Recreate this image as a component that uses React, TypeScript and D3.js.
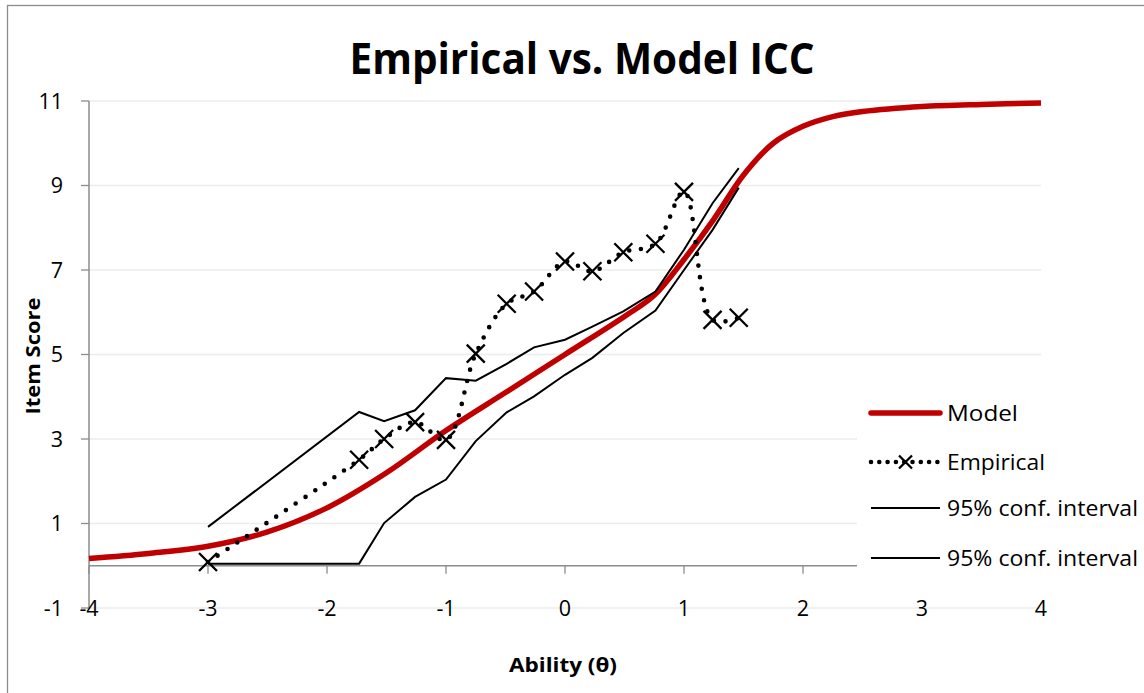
import React from 'react';
import * as d3 from 'd3';

const modelTheta = [-4, -3.5, -3, -2.5, -2, -1.5, -1, -0.5, 0, 0.5, 0.75, 1, 1.25, 1.5, 1.75, 2, 2.25, 2.5, 3, 3.5, 4];
const modelScore = [0.17, 0.29, 0.46, 0.8, 1.37, 2.2, 3.2, 4.1, 5.0, 5.9, 6.4, 7.25, 8.2, 9.25, 10.0, 10.4, 10.63, 10.75, 10.87, 10.92, 10.95];
const empTheta = [-3, -1.73, -1.52, -1.26, -1.0, -0.75, -0.49, -0.26, 0, 0.23, 0.49, 0.76, 1.0, 1.24, 1.46];
const empScore = [0.09, 2.51, 3.0, 3.4, 2.98, 5.02, 6.2, 6.49, 7.2, 6.97, 7.42, 7.62, 8.85, 5.82, 5.87];
const ciLower = [0.05, 0.05, 1.01, 1.63, 2.04, 2.95, 3.63, 4.01, 4.52, 4.92, 5.51, 6.04, 7.0, 7.95, 8.95];
const ciUpper = [0.92, 3.64, 3.42, 3.68, 4.44, 4.38, 4.78, 5.17, 5.35, 5.66, 6.02, 6.49, 7.48, 8.58, 9.41];
const xTicks = [-4, -3, -2, -1, 0, 1, 2, 3, 4];
const yTicks = [-1, 1, 3, 5, 7, 9, 11];
const legendLabels = ['Model', 'Empirical', '95% conf. interval', '95% conf. interval'];
const legendWidths = [71, 98, 191, 191];

const FONT = "'Open Sans', 'DejaVu Sans', sans-serif";

export default function App() {
  const x = d3.scaleLinear().domain([-4, 4]).range([89, 1041]);
  const y = d3.scaleLinear().domain([-1, 11]).range([608, 101]);

  const modelPts: [number, number][] = modelTheta.map((t, i) => [x(t), y(modelScore[i])]);
  const empPts: [number, number][] = empTheta.map((t, i) => [x(t), y(empScore[i])]);
  const lowPts: [number, number][] = empTheta.map((t, i) => [x(t), y(ciLower[i])]);
  const upPts: [number, number][] = empTheta.map((t, i) => [x(t), y(ciUpper[i])]);

  const smooth = d3.line().curve(d3.curveCatmullRom.alpha(0.5));
  const straight = d3.line();

  const xMark = (cx: number, cy: number, r: number, key: any) => (
    <path key={key} d={`M${cx - r},${cy - r}L${cx + r},${cy + r}M${cx - r},${cy + r}L${cx + r},${cy - r}`}
      stroke="#000" strokeWidth={2.3} fill="none" />
  );

  const legX0 = 871, legX1 = 940, legText = 947;
  const legY = [413, 462, 508, 558];

  return (
    <svg width={1144} height={693} style={{ position: 'absolute', left: 0, top: 0, background: '#fff' }}>
      <rect x={0} y={0} width={1144} height={693} fill="#fff" />
      <rect x={7.5} y={5.5} width={1300} height={1000} fill="none" stroke="#8c8c8c" strokeWidth={1.3} />

      <text x={582} y={74} textAnchor="middle" fontFamily={FONT} fontWeight="bold" fontSize={43}
        textLength={465} lengthAdjust="spacingAndGlyphs">Empirical vs. Model ICC</text>

      {/* gridlines */}
      {yTicks.map(t => (
        <line key={'g' + t} x1={89} x2={1041} y1={y(t)} y2={y(t)} stroke="#ececec" strokeWidth={1.3} />
      ))}

      {/* y axis */}
      <line x1={89} x2={89} y1={y(11)} y2={y(-1)} stroke="#8c8c8c" strokeWidth={1.5} />
      {yTicks.map(t => (
        <g key={'yt' + t}>
          <line x1={81} x2={89} y1={y(t)} y2={y(t)} stroke="#8c8c8c" strokeWidth={1.3} />
          <text x={63} y={y(t)} dy="0.36em" textAnchor="end" fontFamily={FONT} fontSize={21.5} fill="#000">{t}</text>
        </g>
      ))}

      {/* x axis */}
      <line x1={89} x2={1041} y1={y(0)} y2={y(0)} stroke="#8c8c8c" strokeWidth={1.5} />
      {xTicks.map(t => (
        <g key={'xt' + t}>
          <line x1={x(t)} x2={x(t)} y1={y(0)} y2={y(0) + 8} stroke="#8c8c8c" strokeWidth={1.3} />
          <text x={x(t)} y={y(-1)} dy="0.36em" textAnchor="middle" fontFamily={FONT} fontSize={21.5} fill="#000">{t}</text>
        </g>
      ))}

      {/* series */}
      <path d={smooth(modelPts) || ''} fill="none" stroke="#C00000" strokeWidth={5.5} strokeLinejoin="round" />
      <path d={smooth(empPts) || ''} fill="none" stroke="#000" strokeWidth={4.6} strokeDasharray="0 11.7" strokeLinecap="round" />
      {empPts.map((p, i) => xMark(p[0], p[1], 9, 'm' + i))}
      <path d={straight(upPts) || ''} fill="none" stroke="#000" strokeWidth={2} />
      <path d={straight(lowPts) || ''} fill="none" stroke="#000" strokeWidth={2} />

      {/* axis titles */}
      <text transform={`translate(33,356) rotate(-90)`} textAnchor="middle" dy="0.35em" fontFamily={FONT} fontWeight="bold" fontSize={20}
        textLength={117} lengthAdjust="spacingAndGlyphs">Item Score</text>
      <text x={563} y={665} dy="0.35em" textAnchor="middle" fontFamily={FONT} fontWeight="bold" fontSize={20}
        textLength={108} lengthAdjust="spacingAndGlyphs">Ability (θ)</text>

      {/* legend */}
      <rect x={857} y={385} width={300} height={200} fill="#fff" />
      <line x1={legX0} x2={legX1} y1={legY[0]} y2={legY[0]} stroke="#C00000" strokeWidth={5.5} strokeLinecap="round" />
      <line x1={legX0} x2={legX1} y1={legY[1]} y2={legY[1]} stroke="#000" strokeWidth={4.6} strokeDasharray="0 8.3" strokeLinecap="round" />
      {xMark((legX0 + legX1) / 2, legY[1], 6.5, 'lm')}
      <line x1={legX0} x2={legX1} y1={legY[2]} y2={legY[2]} stroke="#000" strokeWidth={2} />
      <line x1={legX0} x2={legX1} y1={legY[3]} y2={legY[3]} stroke="#000" strokeWidth={2} />
      {legendLabels.map((l, i) => (
        <text key={'lt' + i} x={legText} y={legY[i]} dy="0.36em" fontFamily={FONT} fontSize={21.5} fill="#000"
          textLength={legendWidths[i]} lengthAdjust="spacingAndGlyphs">{l}</text>
      ))}
    </svg>
  );
}
